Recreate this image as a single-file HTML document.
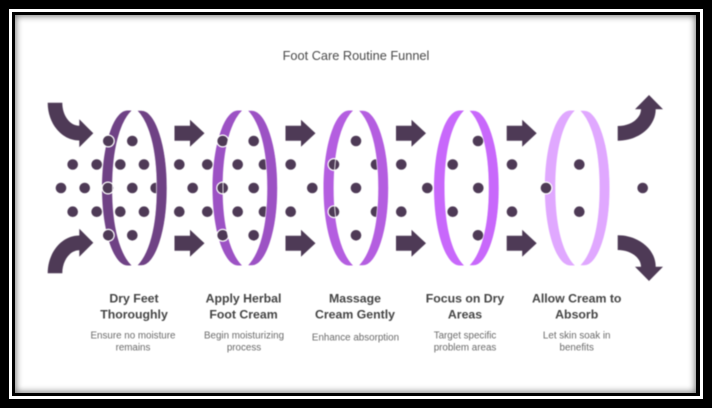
<!DOCTYPE html>
<html><head><meta charset="utf-8">
<style>
html,body{margin:0;padding:0;width:712px;height:408px;overflow:hidden;background:#000}
.a{position:absolute}
svg{position:absolute;left:0;top:0;filter:blur(.4px)}
text{font-family:"Liberation Sans",sans-serif;text-anchor:middle}
.h{font-size:12.3px;font-weight:bold;fill:#444}
.d{font-size:9.8px;fill:#6a6a6a}
</style></head><body>
<div class="a" style="left:9px;top:9px;width:694px;height:390px;background:#fff"></div>
<div class="a" style="left:12px;top:12px;width:688px;height:384px;background:#000"></div>
<div class="a" style="left:15px;top:15px;width:681px;height:378px;background:#fff;box-shadow:inset 0 0 7px 1px #777"></div>
<svg width="712" height="408" viewBox="0 0 712 408">
<defs>
<path id="L" d="M-2.5 -77.5 H-7 C-21 -77.5,-32.5 -42.6,-32.5 0 C-32.5 42.6,-21 77.5,-7 77.5 H-2.5 C-14 66,-22 40,-22 0 C-22 -40,-14 -66,-2.5 -77.5Z"/>
<path id="R" d="M2.5 -77.5 H7 C21 -77.5,32.5 -42.6,32.5 0 C32.5 42.6,21 77.5,7 77.5 H2.5 C14 66,22 40,22 0 C22 -40,14 -66,2.5 -77.5Z"/>
<path id="I" d="M-2.5 77.5 C-14 66,-22 40,-22 0 C-22 -40,-14 -66,-2.5 -77.5" fill="none" stroke="#fff" stroke-width=".8"/>
<path id="S" d="M0 -7.5 H15.5 V-13.5 L30 0 L15.5 13.5 V7.5 H0Z"/>
</defs>

<text x="356" y="60" font-size="12.75" fill="#4a4a4a">Foot Care Routine Funnel</text>

<use href="#L" x="134.5" y="188" fill="#6f4285"/>
<use href="#L" x="245" y="188" fill="#9c52c4"/>
<use href="#L" x="356" y="188" fill="#b45ee0"/>
<use href="#L" x="466.5" y="188" fill="#c868fb"/>
<use href="#L" x="577.3" y="188" fill="#e0a8ff"/>

<g fill="#4e3a56">
<circle cx="132.3" cy="141" r="5.3"/><circle cx="253.7" cy="141" r="5.3"/><circle cx="356" cy="141" r="5.3"/><circle cx="478" cy="141" r="5.3"/>
<circle cx="72.7" cy="164.5" r="5.3"/><circle cx="96.7" cy="164.5" r="5.3"/><circle cx="120.3" cy="164.5" r="5.3"/><circle cx="144" cy="164.5" r="5.3"/>
<circle cx="179.3" cy="164.5" r="5.3"/><circle cx="207.3" cy="164.5" r="5.3"/><circle cx="237.7" cy="164.5" r="5.3"/><circle cx="264" cy="164.5" r="5.3"/>
<circle cx="290.7" cy="164.5" r="5.3"/><circle cx="376" cy="164.5" r="5.3"/><circle cx="401.3" cy="164.5" r="5.3"/><circle cx="452.7" cy="164.5" r="5.3"/>
<circle cx="512" cy="164.5" r="5.3"/><circle cx="579.3" cy="164.5" r="5.3"/>
<circle cx="61" cy="188" r="5.3"/><circle cx="84.7" cy="188" r="5.3"/><circle cx="132.3" cy="188" r="5.3"/><circle cx="155.7" cy="188" r="5.3"/>
<circle cx="192.7" cy="188" r="5.3"/><circle cx="253.7" cy="188" r="5.3"/><circle cx="312.3" cy="188" r="5.3"/><circle cx="356" cy="188" r="5.3"/>
<circle cx="427.3" cy="188" r="5.3"/><circle cx="478.3" cy="188" r="5.3"/><circle cx="642.7" cy="188" r="5.3"/>
<circle cx="72.7" cy="211.7" r="5.3"/><circle cx="96.7" cy="211.7" r="5.3"/><circle cx="120.3" cy="211.7" r="5.3"/><circle cx="144" cy="211.7" r="5.3"/>
<circle cx="179.3" cy="211.7" r="5.3"/><circle cx="207.3" cy="211.7" r="5.3"/><circle cx="237.7" cy="211.7" r="5.3"/><circle cx="264" cy="211.7" r="5.3"/>
<circle cx="290.7" cy="211.7" r="5.3"/><circle cx="376" cy="211.7" r="5.3"/><circle cx="401.3" cy="211.7" r="5.3"/><circle cx="452.7" cy="211.7" r="5.3"/>
<circle cx="512" cy="211.7" r="5.3"/><circle cx="579.3" cy="211.7" r="5.3"/>
<circle cx="132.3" cy="235.3" r="5.3"/><circle cx="253.7" cy="235.3" r="5.3"/><circle cx="356" cy="235.3" r="5.3"/><circle cx="478" cy="235.3" r="5.3"/>
</g>

<g fill="#4e3a56" stroke="#fff" stroke-width="1.2">
<circle cx="108.3" cy="141" r="5.9"/><circle cx="108" cy="188" r="5.9"/><circle cx="108.3" cy="235.3" r="5.9"/>
<circle cx="222.7" cy="141" r="5.9"/><circle cx="222.7" cy="188" r="5.9"/><circle cx="222.7" cy="235.3" r="5.9"/>
<circle cx="334" cy="164.5" r="5.9"/><circle cx="334" cy="211.7" r="5.9"/>
<circle cx="546" cy="188" r="5.9"/>
</g>

<use href="#I" x="134.5" y="188"/>
<use href="#I" x="245" y="188"/>
<use href="#I" x="356" y="188"/>

<g stroke="#fff" stroke-width=".6">
<use href="#R" x="134.5" y="188" fill="#6f4285"/>
<use href="#R" x="245" y="188" fill="#9c52c4"/>
<use href="#R" x="356" y="188" fill="#b45ee0"/>
<use href="#R" x="466.5" y="188" fill="#c868fb"/>
<use href="#R" x="577.3" y="188" fill="#e0a8ff"/>
</g>

<g fill="#4e3a56">
<use href="#S" x="174.5" y="133.2"/><use href="#S" x="174.5" y="243.2"/>
<use href="#S" x="285.5" y="133.2"/><use href="#S" x="285.5" y="243.2"/>
<use href="#S" x="396" y="133.2"/><use href="#S" x="396" y="243.2"/>
<use href="#S" x="506.7" y="133.2"/><use href="#S" x="506.7" y="243.2"/>
<path d="M47.7 102.7 H62.3 C62.3 115.4,69.9 125.7,79.3 125.7 V119.3 L93.3 133.3 L79.3 147.3 V140.5 C61.7 140.5,47.7 123.5,47.7 102.7Z"/>
<path d="M47.7 273.3 H62.3 C62.3 260.6,69.9 250.3,79.3 250.3 V256.7 L93.3 242.7 L79.3 228.7 V235.5 C61.7 235.5,47.7 252.5,47.7 273.3Z"/>
<path d="M617.7 126 C630.5 126,641 118.5,641 109.3 H635 L649 95 L663 109.3 H655.7 C655.7 126.6,638.7 140.7,617.7 140.7Z"/>
<path d="M617.7 250 C630.5 250,641 257.5,641 266.7 H635 L649 281 L663 266.7 H655.7 C655.7 249.4,638.7 235.3,617.7 235.3Z"/>
</g>

<text class="h" x="134" y="302.5">Dry Feet</text><text class="h" x="134" y="318.5">Thoroughly</text>
<text class="d" x="133" y="338.5">Ensure no moisture</text><text class="d" x="133" y="350.5">remains</text>

<text class="h" x="243.5" y="302.5">Apply Herbal</text><text class="h" x="243.5" y="318.5">Foot Cream</text>
<text class="d" x="244" y="338.5">Begin moisturizing</text><text class="d" x="244" y="350.5">process</text>

<text class="h" x="355" y="302.5">Massage</text><text class="h" x="355" y="318.5">Cream Gently</text>
<text class="d" x="355.5" y="340.5">Enhance absorption</text>

<text class="h" x="465" y="302.5">Focus on Dry</text><text class="h" x="465" y="318.5">Areas</text>
<text class="d" x="465" y="338.5">Target specific</text><text class="d" x="465" y="350.5">problem areas</text>

<text class="h" x="576.7" y="302.5">Allow Cream to</text><text class="h" x="576.7" y="318.5">Absorb</text>
<text class="d" x="576.7" y="338.5">Let skin soak in</text><text class="d" x="576.7" y="350.5">benefits</text>
</svg>
</body></html>
